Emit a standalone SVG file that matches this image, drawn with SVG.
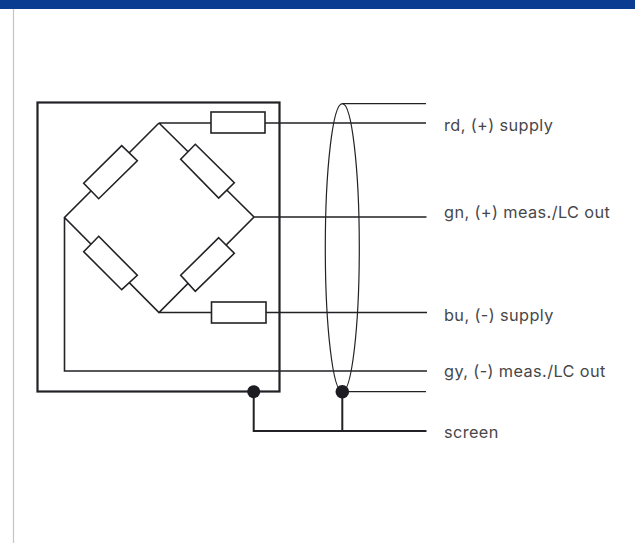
<svg xmlns="http://www.w3.org/2000/svg" width="635" height="543" viewBox="0 0 635 543">
<style>
.w{fill:none;stroke:#222226;stroke-width:1.6}
.t{fill:none;stroke:#222226;stroke-width:1.2}
.r{fill:#fff;stroke:#222226;stroke-width:1.6}
.d{fill:#1c1c22}
text{font-family:"Inter","Noto Sans",sans-serif;font-size:16.300px;letter-spacing:.4px;font-weight:400;fill:#47474a}
</style>
<rect width="635" height="543" fill="#fff"/>
<rect width="635" height="9" fill="#0a3d91"/>
<line x1="13.5" y1="9" x2="13.5" y2="543" stroke="#c4c4c4" stroke-width="1.2"/>
<g id="connectors">
<path class="w" d="M159 123H426M159 123L64.500 217.500L159 312.500L254 217L159 123M254 217H426.500M159 312.500H427M64.500 217.500V371H427"/>
<path class="t" d="M342.300 103.700H426M342.300 391.700H426"/>
<path class="w" style="stroke-width:2" d="M253.700 391.700V431H426.500M342.300 391.700V431"/>
</g>
<g id="housing"><rect x="37.500" y="102.500" width="242" height="289" fill="none" stroke="#222226" stroke-width="2.200"/></g>
<g id="shield"><ellipse cx="342.300" cy="247.700" rx="17" ry="144" class="t"/></g>
<g id="r-top"><rect class="r" x="211" y="112" width="54" height="21"/></g>
<g id="r-bottom"><rect class="r" x="211.500" y="302" width="54.500" height="21"/></g>
<g id="r-ul"><polygon class="r" points="121.700,145.700 137.300,160.700 98.700,198.700 83.700,183.300"/></g>
<g id="r-ur"><polygon class="r" points="195.300,144.300 234.300,182.700 218.700,198 180.700,159.300"/></g>
<g id="r-ll"><polygon class="r" points="98.700,236.300 137.300,275.300 121.700,289.700 83.700,251.700"/></g>
<g id="r-lr"><polygon class="r" points="218.700,237.700 234.300,253.300 195.300,291.300 180.700,275.300"/></g>
<g id="dot-housing"><circle class="d" cx="253.700" cy="391.700" r="6.500"/></g>
<g id="dot-shield"><circle class="d" cx="342.300" cy="391.700" r="6.800"/></g>
<g id="label-rd"><text x="444" y="130.500">rd, (+) supply</text></g>
<g id="label-gn"><text x="444" y="218">gn, (+) meas./LC out</text></g>
<g id="label-bu"><text x="444" y="320.500">bu, (-) supply</text></g>
<g id="label-gy"><text x="444" y="377">gy, (-) meas./LC out</text></g>
<g id="label-screen"><text x="444" y="438">screen</text></g>
</svg>
